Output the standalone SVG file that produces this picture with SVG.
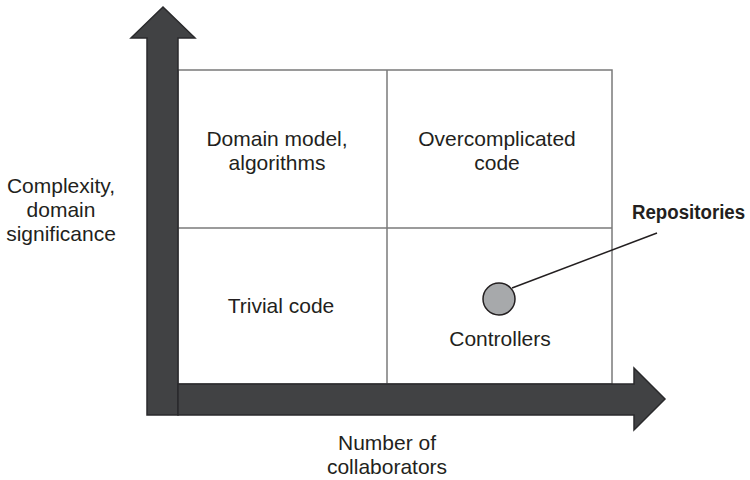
<svg xmlns="http://www.w3.org/2000/svg" width="750" height="480" viewBox="0 0 750 480">
<style>
.lbl{font-family:"Liberation Sans",Arial,sans-serif;font-size:21px;fill:#231f20;text-anchor:middle}
.bold{font-family:"Liberation Sans",Arial,sans-serif;font-size:21px;font-weight:bold;fill:#231f20}
.grid{fill:none;stroke:#7a7a7a;stroke-width:1.5}
.axis{fill:#414244;stroke:#2a2a2c;stroke-width:1.5;stroke-linejoin:miter}
</style>
<rect width="750" height="480" fill="#ffffff"/>
<g id="grid">
<rect class="grid" x="178" y="70" width="434" height="314"/>
<line class="grid" x1="387" y1="70" x2="387" y2="384"/>
<line class="grid" x1="178" y1="228" x2="612" y2="228"/>
</g>
<g id="axes">
<polygon id="y-axis" class="axis" points="147,415 147,38 131,38 163,7 195,38 178,38 178,415"/>
<polygon id="x-axis" class="axis" points="178,384 634,384 634,368 665,399 634,430 634,415 178,415"/>
</g>
<g id="quadrants">
<g id="q-domain"><text class="lbl" x="277" y="146">Domain model,</text><text class="lbl" x="277" y="170">algorithms</text></g>
<g id="q-over"><text class="lbl" x="497" y="146">Overcomplicated</text><text class="lbl" x="497" y="170">code</text></g>
<g id="q-trivial"><text class="lbl" x="281" y="313">Trivial code</text></g>
<g id="q-controllers"><text class="lbl" x="500" y="346">Controllers</text></g>
</g>
<g id="axis-labels">
<text class="lbl" x="61" y="193">Complexity,</text>
<text class="lbl" x="61" y="217">domain</text>
<text class="lbl" x="61" y="241">significance</text>
<text class="lbl" x="387" y="450">Number of</text>
<text class="lbl" x="387" y="474">collaborators</text>
</g>
<g id="connectors">
<line x1="512" y1="288" x2="657" y2="233" stroke="#231f20" stroke-width="1.5"/>
</g>
<g id="repositories">
<circle cx="499" cy="299" r="16" fill="#a7a9ab" stroke="#231f20" stroke-width="1.5"/>
<text class="bold" transform="translate(632,219) scale(0.89,1)" x="0" y="0">Repositories</text>
</g>
</svg>
